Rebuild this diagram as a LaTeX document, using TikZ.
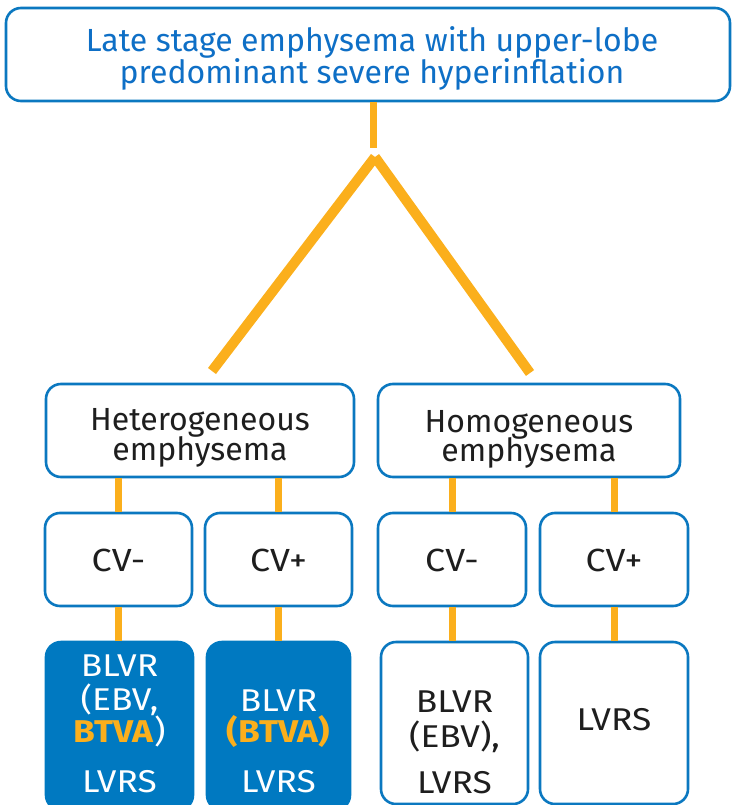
\documentclass[tikz,border=0pt]{standalone}
\usepackage{fontspec}
\setmainfont{Fira Sans}
\newfontfamily\widefont[FakeStretch=1.12]{Fira Sans}
\definecolor{bord}{HTML}{0B78C0}
\definecolor{fillb}{HTML}{0079C1}
\definecolor{orng}{HTML}{FBAF1C}
\definecolor{topink}{HTML}{0E6FC6}
\definecolor{ink}{HTML}{1E1E1E}
\begin{document}
\begin{tikzpicture}[x=1pt,y=-1pt,
  box/.style={draw=bord, line width=2.6pt, rounded corners=15pt, fill=white, inner sep=0pt, minimum height=93pt},
  fbox/.style={box, fill=fillb, draw=fillb},
  lbl/.style={anchor=base, inner sep=0pt, font=\fontsize{32}{32}\selectfont, text=ink},
  tlbl/.style={lbl, text=topink},
  clbl/.style={lbl, font=\widefont\fontsize{32}{32}\selectfont},
  slbl/.style={lbl, font=\widefont\fontsize{31.5}{32}\selectfont},
  wlbl/.style={slbl, text=white},
  conn/.style={draw=orng, line width=7pt},
  leg/.style={draw=orng, line width=10pt}]
\useasboundingbox (0,0) rectangle (732,805);

% boxes
\node[box, minimum width=724pt] (top) at (368,54.5) {};
\node[box, minimum width=308pt] (het) at (200,430.5) {};
\node[box, minimum width=302pt] (hom) at (529,430.5) {};
\node[box, minimum width=147pt] (c1) at (118.5,559.5) {};
\node[box, minimum width=147pt] (c2) at (278.5,559.5) {};
\node[box, minimum width=148pt] (c3) at (452,559.5) {};
\node[box, minimum width=148pt] (c4) at (614,559.5) {};
\node[fbox, minimum width=147pt, minimum height=168pt] (b1) at (119.5,726) {};
\node[fbox, minimum width=143pt, minimum height=168pt] (b2) at (278.5,726) {};
\node[box, minimum width=147pt, minimum height=162pt] (b3) at (454.5,723) {};
\node[box, minimum width=148pt, minimum height=162pt] (b4) at (614,723) {};

% connectors
\coordinate (j) at (373,148);
\coordinate (apex) at (375,157);
\coordinate (lend) at (212,371);
\coordinate (rend) at (530,373);
\draw[conn] (top.south -| j) -- (j);
\draw[leg] (apex) -- (lend);
\draw[leg] (apex) -- (rend);
\draw[conn] (c1.north |- het.south) -- (c1.north);
\draw[conn] (c2.north |- het.south) -- (c2.north);
\draw[conn] (c3.north |- hom.south) -- (c3.north);
\draw[conn] (c4.north |- hom.south) -- (c4.north);
\draw[conn] (c1.south) -- (c1.south |- b1.north);
\draw[conn] (c2.south) -- (c2.south |- b2.north);
\draw[conn] (c3.south) -- (c3.south |- b3.north);
\draw[conn] (c4.south) -- (c4.south |- b4.north);

% texts
\node[tlbl] (ta) at (372,52) {Late stage emphysema with upper-lobe};
\node[tlbl] (tb) at (372,84) {predominant severe hyperinflation};
\node[lbl] (ha) at (200,430) {Heterogeneous};
\node[lbl] (hb) at (200,460) {emphysema};
\node[lbl] (oa) at (529,432) {Homogeneous};
\node[lbl] (ob) at (529,461) {emphysema};
\node[clbl] (c1t) at (118.5,571) {CV-};
\node[clbl] (c2t) at (278.5,571) {CV+};
\node[clbl] (c3t) at (452,571) {CV-};
\node[clbl] (c4t) at (614,571) {CV+};
\node[wlbl] (b1a) at (119.5,676) {BLVR};
\node[wlbl] (b1b) at (119.5,710) {(EBV,};
\node[wlbl] (b1c) at (119.5,742) {\textcolor{orng}{\textbf{BTVA}})};
\node[wlbl] (b1d) at (119.5,792) {LVRS};
\node[wlbl] (b2a) at (278.5,711) {BLVR};
\node[wlbl] (b2b) at (278.5,742) {\textcolor{orng}{\textbf{(BTVA)}}};
\node[wlbl] (b2d) at (278.5,792) {LVRS};
\node[slbl] (b3a) at (454.5,712) {BLVR};
\node[slbl] (b3b) at (454.5,747) {(EBV),};
\node[slbl] (b3d) at (454.5,793) {LVRS};
\node[slbl] (b4a) at (614,730) {LVRS};
\end{tikzpicture}
\end{document}
